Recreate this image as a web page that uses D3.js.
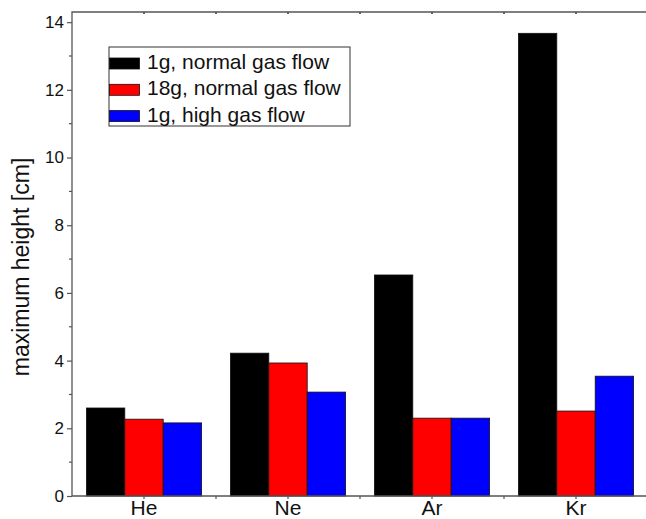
<!DOCTYPE html>
<html>
<head>
<meta charset="utf-8">
<script src="https://cdn.jsdelivr.net/npm/d3@7"></script>
<style>
  body { margin: 0; background: #fff; }
  text { font-family: "Liberation Sans", Arial, sans-serif; }
</style>
</head>
<body>
<div id="chart"></div>
<script>
// Data
const gases = ['He', 'Ne', 'Ar', 'Kr']
const seriesNames = ['1g, normal gas flow', '18g, normal gas flow', '1g, high gas flow']
const seriesColors = ['#000000', '#ff0000', '#0000ff']
const normal1g = [2.6, 4.22, 6.53, 13.67]
const normal18g = [2.27, 3.93, 2.3, 2.51]
const high1g = [2.16, 3.07, 2.3, 3.54]
const yTicks = [0, 2, 4, 6, 8, 10, 12, 14]

const series = [normal1g, normal18g, high1g]

// Dimensions
const dimensions = {
  width: 646,
  height: 519,
  margin: { top: 12, bottom: 23, left: 72, right: -2 }
}
dimensions.ctrWidth = dimensions.width - dimensions.margin.left - dimensions.margin.right
dimensions.ctrHeight = dimensions.height - dimensions.margin.top - dimensions.margin.bottom

const svg = d3.select('#chart')
  .append('svg')
  .attr('width', dimensions.width)
  .attr('height', dimensions.height)

const ctr = svg.append('g')
  .attr('transform', `translate(${dimensions.margin.left}, ${dimensions.margin.top})`)

// Scales
const xScale = d3.scaleBand()
  .domain(gases)
  .range([0, dimensions.ctrWidth])

const xInner = d3.scaleBand()
  .domain(d3.range(series.length))
  .range([xScale.bandwidth() * 0.1, xScale.bandwidth() * 0.9])

const yScale = d3.scaleLinear()
  .domain([0, 14.3])
  .range([dimensions.ctrHeight, 0])

// Bars
const groups = ctr.append('g')
  .selectAll('g')
  .data(gases)
  .join('g')
  .attr('transform', d => `translate(${xScale(d)},0)`)

groups.selectAll('rect')
  .data((g, gi) => series.map((s, si) => ({ si, v: s[gi] })))
  .join('rect')
  .attr('x', d => xInner(d.si))
  .attr('width', xInner.bandwidth())
  .attr('y', d => yScale(d.v))
  .attr('height', d => dimensions.ctrHeight - yScale(d.v))
  .attr('fill', d => seriesColors[d.si])
  .attr('stroke', '#111')
  .attr('stroke-width', 0.8)

// Axes
const axisColor = '#555'

const yAxis = d3.axisLeft(yScale)
  .tickValues(yTicks)
  .tickSize(5)
  .tickPadding(3)
  .tickFormat(d3.format('d'))

const yAxisGroup = ctr.append('g').call(yAxis)
yAxisGroup.select('.domain').remove()
yAxisGroup.selectAll('line').attr('stroke', axisColor).attr('stroke-width', 1.2)
yAxisGroup.selectAll('text').attr('font-size', 17).attr('fill', '#111')

// minor y ticks
ctr.append('g')
  .selectAll('line')
  .data(d3.range(1, 15, 2))
  .join('line')
  .attr('x1', -3)
  .attr('x2', 0)
  .attr('y1', d => yScale(d))
  .attr('y2', d => yScale(d))
  .attr('stroke', axisColor)
  .attr('stroke-width', 1.2)

// x ticks at centres and between groups
const xTickPos = d3.range(1, gases.length * 2).map(i => i * xScale.bandwidth() / 2)

ctr.append('g')
  .selectAll('line')
  .data(xTickPos)
  .join('line')
  .attr('x1', d => d)
  .attr('x2', d => d)
  .attr('y1', dimensions.ctrHeight)
  .attr('y2', dimensions.ctrHeight + 3)
  .attr('stroke', axisColor)
  .attr('stroke-width', 1.2)

ctr.append('g')
  .selectAll('line')
  .data(xTickPos)
  .join('line')
  .attr('x1', d => d)
  .attr('x2', d => d)
  .attr('y1', 0)
  .attr('y2', 2)
  .attr('stroke', '#000')
  .attr('stroke-width', 1.2)

// frame
ctr.append('path')
  .attr('d', `M${dimensions.ctrWidth},0H0V${dimensions.ctrHeight}H${dimensions.ctrWidth}`)
  .attr('fill', 'none')
  .attr('stroke', axisColor)
  .attr('stroke-width', 1.3)

// x labels
ctr.append('g')
  .selectAll('text')
  .data(gases)
  .join('text')
  .attr('x', d => xScale(d) + xScale.bandwidth() / 2)
  .attr('y', dimensions.ctrHeight + 19)
  .attr('text-anchor', 'middle')
  .attr('font-size', 21)
  .attr('fill', '#111')
  .text(d => d)

// y label
svg.append('text')
  .attr('transform', `translate(29, 267) rotate(-90)`)
  .attr('text-anchor', 'middle')
  .attr('font-size', 23)
  .attr('fill', '#111')
  .text('maximum height [cm]')

// Legend
const legend = svg.append('g').attr('transform', 'translate(109, 47)')

legend.append('rect')
  .attr('width', 241)
  .attr('height', 79)
  .attr('fill', '#fff')
  .attr('stroke', '#333')
  .attr('stroke-width', 1)

const items = legend.selectAll('g.item')
  .data(seriesNames)
  .join('g')
  .attr('class', 'item')
  .attr('transform', (d, i) => `translate(0, ${22 + i * 26.3})`)

items.append('rect')
  .attr('x', 0.5)
  .attr('y', -11)
  .attr('width', 30)
  .attr('height', 11)
  .attr('fill', (d, i) => seriesColors[i])
  .attr('stroke', '#111')
  .attr('stroke-width', 0.8)

items.append('text')
  .attr('x', 38)
  .attr('y', 0)
  .attr('font-size', 21)
  .attr('fill', '#111')
  .text(d => d)
</script>
</body>
</html>
